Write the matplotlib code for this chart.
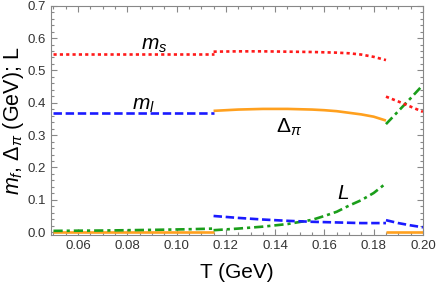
import numpy as np
import matplotlib.pyplot as plt
from matplotlib.ticker import MultipleLocator

plt.rcParams['font.family'] = ['Liberation Sans', 'DejaVu Sans']
plt.rcParams['mathtext.fontset'] = 'custom'
plt.rcParams['mathtext.it'] = 'Liberation Sans:italic'
plt.rcParams['mathtext.rm'] = 'Liberation Sans'

# branch 1: T < 0.115
T1 = [0.05, 0.07, 0.09, 0.105, 0.115]
ms1 = [0.55, 0.55, 0.55, 0.55, 0.55]
ml1 = [0.367, 0.367, 0.367, 0.367, 0.367]
dpi1 = [0.0, 0.0, 0.0, 0.0, 0.0]
L1 = [0.004, 0.005, 0.007, 0.009, 0.011]

# branch 2: 0.115 < T < 0.185
T2 = [0.115, 0.125, 0.135, 0.145, 0.155, 0.16, 0.165, 0.17, 0.175, 0.18, 0.185]
ms2 = [0.558, 0.559, 0.559, 0.558, 0.557, 0.556, 0.555, 0.553, 0.549, 0.542, 0.532]
ml2 = [0.05, 0.044, 0.039, 0.035, 0.032, 0.031, 0.030, 0.029, 0.028, 0.028, 0.028]
dpi2 = [0.375, 0.379, 0.381, 0.381, 0.379, 0.377, 0.374, 0.369, 0.364, 0.357, 0.345]
L2 = [0.006, 0.011, 0.017, 0.025, 0.038, 0.050, 0.063, 0.082, 0.099, 0.121, 0.151]

# branch 3: T > 0.185
T3 = [0.185, 0.19, 0.195, 0.20]
ms3 = [0.419, 0.404, 0.388, 0.372]
ml3 = [0.037, 0.028, 0.021, 0.015]
dpi3 = [0.0, 0.0, 0.0, 0.0]
L3 = [0.334, 0.374, 0.414, 0.455]

red = '#ff1a1a'
blue = '#1a1aff'
orange = '#ffa01e'
green = '#1a9e1a'
lw = 1.9

fig, ax = plt.subplots(figsize=(4.36, 2.87), dpi=100)
fig.subplots_adjust(left=0.117, right=0.970, top=0.980, bottom=0.181)

for T, ms, ml, dp, L in [(T1, ms1, ml1, dpi1, L1), (T2, ms2, ml2, dpi2, L2), (T3, ms3, ml3, dpi3, L3)]:
    ax.plot(T, dp, color=orange, lw=lw, solid_capstyle='butt')
    ax.plot(T, L, color=green, lw=lw, dashes=(3.5, 1.5, 1.2, 1.5))
    ax.plot(T, ml, color=blue, lw=lw, dashes=(3.2, 1.4))
    ax.plot(T, ms, color=red, lw=lw, dashes=(1.2, 1.2))

ax.text(0.091, 0.577, '$m_s$', fontsize=15, ha='center', va='center')
ax.text(0.0864, 0.392, '$m_l$', fontsize=15, ha='center', va='center')
ax.text(0.1455, 0.325, r'$\Delta_\pi$', fontsize=15, ha='center', va='center')
ax.text(0.1677, 0.12, '$L$', fontsize=15, ha='center', va='center')

ax.set_xlim(0.049, 0.20)
ax.set_ylim(-0.009, 0.70)
ax.xaxis.set_major_locator(MultipleLocator(0.02))
ax.xaxis.set_minor_locator(MultipleLocator(0.005))
ax.yaxis.set_major_locator(MultipleLocator(0.1))
ax.yaxis.set_minor_locator(MultipleLocator(0.02))
ax.xaxis.set_major_formatter(plt.FuncFormatter(lambda v, p: '%.2f' % v))
ax.yaxis.set_major_formatter(plt.FuncFormatter(lambda v, p: '%.1f' % v))
ax.tick_params(which='both', direction='in', top=True, right=True, color='#888888',
               labelsize=9.5, labelcolor='#333333', width=0.8)
ax.tick_params(which='major', length=4)
ax.tick_params(which='minor', length=2)
for s in ax.spines.values():
    s.set_color('#888888')
    s.set_linewidth(0.8)

ax.set_xlabel('T (GeV)', fontsize=15, labelpad=8)
ax.set_ylabel(r'$m_f$, $\Delta_\pi$ (GeV); L', fontsize=15.5, labelpad=1)

fig.savefig('out.png', dpi=100)
